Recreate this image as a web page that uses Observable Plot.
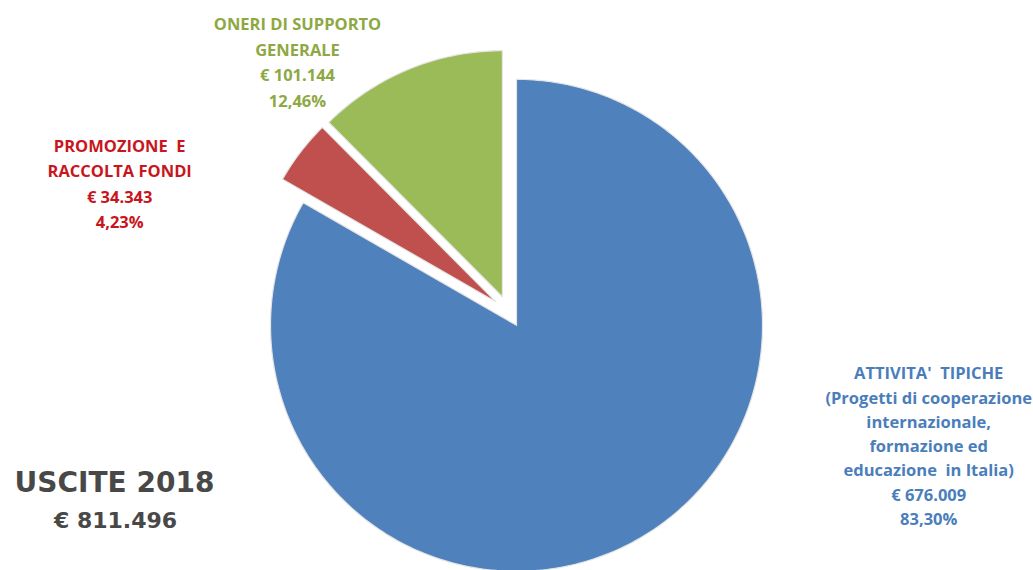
<!DOCTYPE html>
<html>
<head>
<meta charset="utf-8">
<script src="https://cdn.jsdelivr.net/npm/d3@7"></script>
<script src="https://cdn.jsdelivr.net/npm/@observablehq/plot@0.6"></script>
<style>
  html, body { margin: 0; padding: 0; background: #fff; }
  #chart { width: 1033px; height: 570px; }
</style>
</head>
<body>
<div id="chart"></div>
<script>
// ---- data ----
const categories = ["ATTIVITA' TIPICHE", "PROMOZIONE E RACCOLTA FONDI", "ONERI DI SUPPORTO GENERALE"];
const values = [676009, 34343, 101144];
const percentLabels = ["83,30%", "4,23%", "12,46%"];
const amountLabels = ["€ 676.009", "€ 34.343", "€ 101.144"];
const labelTexts = [
  "ATTIVITA'  TIPICHE\n(Progetti di cooperazione\ninternazionale,\nformazione ed\neducazione  in Italia)",
  "PROMOZIONE  E\nRACCOLTA FONDI",
  "ONERI DI SUPPORTO\nGENERALE"
];
const sliceColors = ["#4F81BD", "#C0504D", "#9BBB59"];
const textColors = ["#4A7EBB", "#C8161D", "#8EA843"];
const titleLines = ["USCITE 2018", "€ 811.496"];

// ---- layout ----
const W = 1033, H = 570;
const R = 246;              // pie radius in px
const CX = 508, CY = 311;   // pie centre in px
const explode = 16 / R;     // explosion in radius units

const total = d3.sum(values);
let acc = 0;
const slices = values.map((v, i) => {
  const a0 = acc / total * 2 * Math.PI;
  acc += v;
  const a1 = acc / total * 2 * Math.PI;
  const mid = (a0 + a1) / 2;
  return {i, cat: categories[i], a0, a1, mid,
          ox: explode * Math.sin(mid), oy: explode * Math.cos(mid)};
});

// polygon points of each slice (angle clockwise from top, y up)
const pts = [];
for (const s of slices) {
  pts.push({cat: s.cat, x: s.ox, y: s.oy});
  const n = Math.max(4, Math.ceil((s.a1 - s.a0) / (Math.PI / 180)));
  for (let k = 0; k <= n; k++) {
    const a = s.a0 + (s.a1 - s.a0) * k / n;
    pts.push({cat: s.cat, x: s.ox + Math.sin(a), y: s.oy + Math.cos(a)});
  }
  pts.push({cat: s.cat, x: s.ox, y: s.oy});
}

// label anchors: outer mid-point of each exploded slice
const labelData = slices.map(s => ({
  i: s.i,
  x: s.ox + Math.sin(s.mid),
  y: s.oy + Math.cos(s.mid),
  text: labelTexts[s.i] + "\n" + amountLabels[s.i] + "\n" + percentLabels[s.i]
}));
const labelOffsets = [[289, -94], [-181, 30], [-111, -9]];
const labelLineHeights = [1.47, 1.55, 1.55];

const marks = [];
slices.forEach((s, i) => {
  marks.push(Plot.line(pts.filter(p => p.cat === s.cat), {
    x: "x", y: "y", fill: sliceColors[i], stroke: "#e4e4e4", strokeWidth: 1.2,
    curve: "linear-closed"
  }));
});
labelData.forEach(d => {
  marks.push(Plot.text([d], {
    x: "x", y: "y", text: "text",
    dx: labelOffsets[d.i][0], dy: labelOffsets[d.i][1],
    fill: textColors[d.i], fontSize: 16.5, fontWeight: "bold",
    fontFamily: "Open Sans", lineHeight: labelLineHeights[d.i],
    textAnchor: "middle", lineAnchor: "middle"
  }));
});
marks.push(Plot.text([titleLines[0]], {
  frameAnchor: "bottom-left", text: d => d, dx: 114, dy: -87,
  textAnchor: "middle", lineAnchor: "middle",
  fill: "#484848", fontSize: 28, fontWeight: "bold", fontFamily: "DejaVu Sans"
}));
marks.push(Plot.text([titleLines[1]], {
  frameAnchor: "bottom-left", text: d => d, dx: 115, dy: -50,
  textAnchor: "middle", lineAnchor: "middle",
  fill: "#484848", fontSize: 22, fontWeight: "bold", fontFamily: "DejaVu Sans"
}));

const chart = Plot.plot({
  width: W, height: H,
  margin: 0,
  x: {domain: [-CX / R, (W - CX) / R], range: [0, W], axis: null},
  y: {domain: [-(H - CY) / R, CY / R], range: [H, 0], axis: null},
  style: {background: "#fff", overflow: "visible"},
  marks
});
document.getElementById("chart").appendChild(chart);
</script>
</body>
</html>
